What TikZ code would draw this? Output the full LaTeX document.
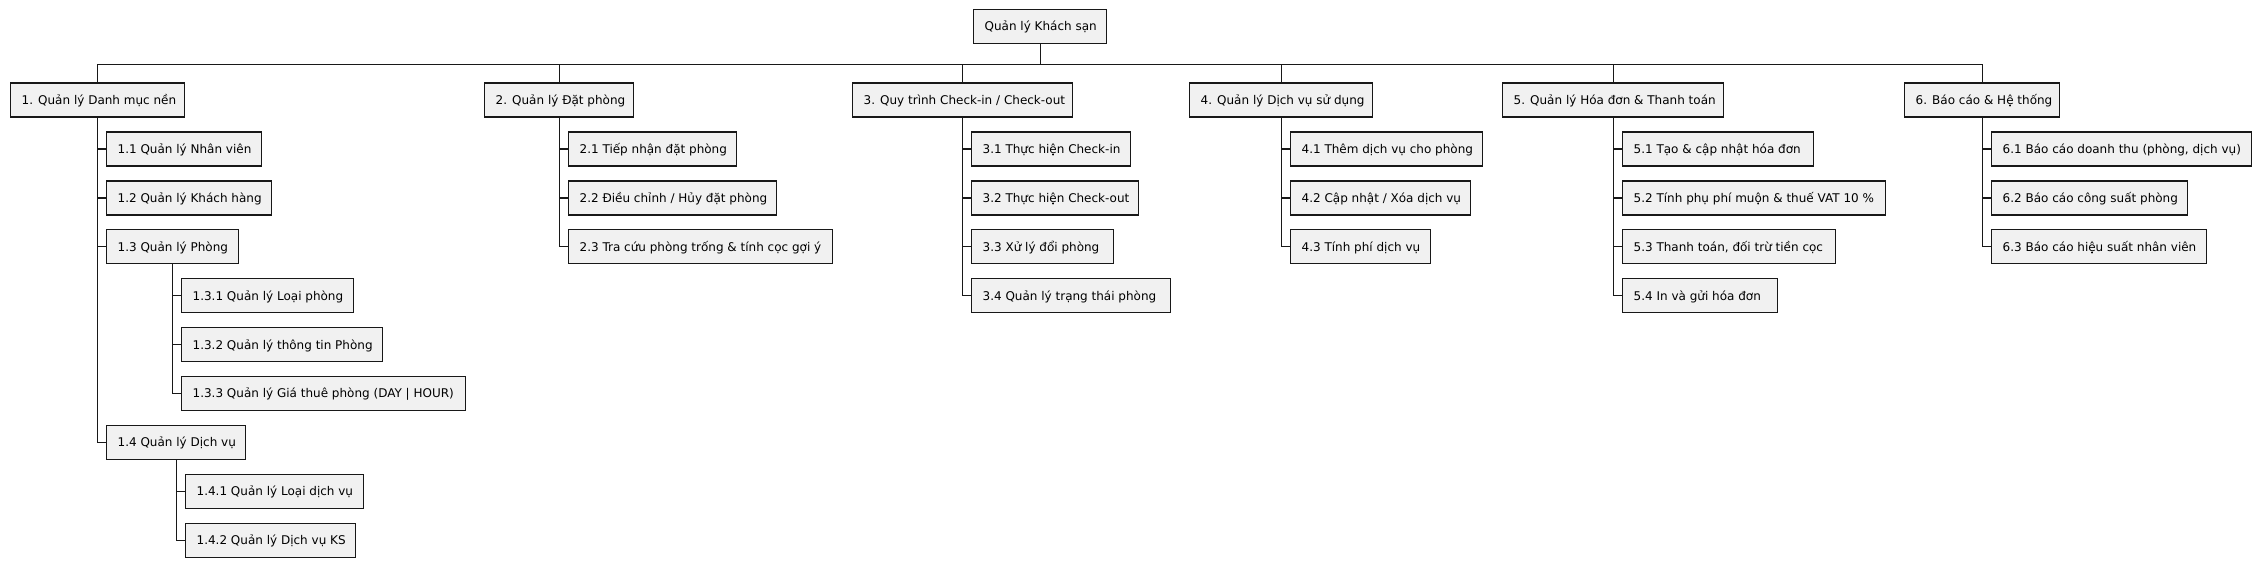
\documentclass[tikz,border=0pt]{standalone}
\usepackage{fontspec}
\setmainfont{DejaVu Sans}
\definecolor{boxfill}{HTML}{F1F1F1}
\definecolor{boxline}{HTML}{181818}
\pgfdeclarelayer{paper}
\pgfdeclarelayer{background}
\pgfsetlayers{paper,background,main}
\tikzset{
  bx/.style={draw=boxline, fill=boxfill, line width=1.3pt, anchor=west,
    minimum height=34pt, inner xsep=11pt, inner ysep=0pt,
    text height=11.5pt, text depth=2.7pt,
    font=\fontsize{12pt}{14pt}\selectfont},
  link/.style={draw=boxline, line width=1.3pt}
}
\newcommand\wbsnode[5]{\node[bx] (#1) at (#2,#3) {\makebox[\dimexpr #4pt-22pt\relax][l]{#5}};}
\begin{document}
\begin{tikzpicture}[x=1pt,y=-1pt]
\begin{pgfonlayer}{paper}
\fill[white] (0,0) rectangle (2260,568);
\end{pgfonlayer}
\useasboundingbox (0,0) rectangle (2260,568);
% root
\wbsnode{root}{973}{26.5}{133}{Quản lý Khách sạn}
% level 1
\wbsnode{a}{10}{100}{174}{1. Quản lý Danh mục nền}
\wbsnode{b}{484}{100}{149}{2. Quản lý Đặt phòng}
\wbsnode{c}{852}{100}{220}{3. Quy trình Check-in / Check-out}
\wbsnode{d}{1189}{100}{183}{4. Quản lý Dịch vụ sử dụng}
\wbsnode{e}{1502}{100}{221}{5. Quản lý Hóa đơn \& Thanh toán}
\wbsnode{f}{1904}{100}{155}{6. Báo cáo \& Hệ thống}
% column 1
\wbsnode{a1}{106}{149}{155}{1.1 Quản lý Nhân viên}
\wbsnode{a2}{106}{197.9}{165}{1.2 Quản lý Khách hàng}
\wbsnode{a3}{106}{246.8}{132}{1.3 Quản lý Phòng}
\wbsnode{a31}{181}{295.7}{172}{1.3.1 Quản lý Loại phòng}
\wbsnode{a32}{181}{344.6}{201}{1.3.2 Quản lý thông tin Phòng}
\wbsnode{a33}{181}{393.5}{284}{1.3.3 Quản lý Giá thuê phòng (DAY | HOUR)}
\wbsnode{a4}{106}{442.4}{139}{1.4 Quản lý Dịch vụ}
\wbsnode{a41}{185}{491.3}{178}{1.4.1 Quản lý Loại dịch vụ}
\wbsnode{a42}{185}{540.2}{170}{1.4.2 Quản lý Dịch vụ KS}
% column 2
\wbsnode{b1}{568}{149}{168}{2.1 Tiếp nhận đặt phòng}
\wbsnode{b2}{568}{197.9}{208}{2.2 Điều chỉnh / Hủy đặt phòng}
\wbsnode{b3}{568}{246.8}{264}{2.3 Tra cứu phòng trống \& tính cọc gợi ý}
% column 3
\wbsnode{c1}{971}{149}{159}{3.1 Thực hiện Check-in}
\wbsnode{c2}{971}{197.9}{167}{3.2 Thực hiện Check-out}
\wbsnode{c3}{971}{246.8}{142}{3.3 Xử lý đổi phòng}
\wbsnode{c4}{971}{295.7}{199}{3.4 Quản lý trạng thái phòng}
% column 4
\wbsnode{d1}{1290}{149}{192}{4.1 Thêm dịch vụ cho phòng}
\wbsnode{d2}{1290}{197.9}{180}{4.2 Cập nhật / Xóa dịch vụ}
\wbsnode{d3}{1290}{246.8}{140}{4.3 Tính phí dịch vụ}
% column 5
\wbsnode{e1}{1622}{149}{191}{5.1 Tạo \& cập nhật hóa đơn}
\wbsnode{e2}{1622}{197.9}{263}{5.2 Tính phụ phí muộn \& thuế VAT 10 \%}
\wbsnode{e3}{1622}{246.8}{213}{5.3 Thanh toán, đối trừ tiền cọc}
\wbsnode{e4}{1622}{295.7}{155}{5.4 In và gửi hóa đơn}
% column 6
\wbsnode{f1}{1991}{149}{260}{6.1 Báo cáo doanh thu (phòng, dịch vụ)}
\wbsnode{f2}{1991}{197.9}{196}{6.2 Báo cáo công suất phòng}
\wbsnode{f3}{1991}{246.8}{215}{6.3 Báo cáo hiệu suất nhân viên}
\begin{pgfonlayer}{background}
% connectors root -> level 1
\foreach \n in {a,b,c,d,e,f}
  \draw[link] (root.south) -- ++(0,20) -| (\n.north);
% connectors to children
\foreach \p/\cs in {a/{a1,a2,a3,a4}, b/{b1,b2,b3}, c/{c1,c2,c3,c4},
                    d/{d1,d2,d3}, e/{e1,e2,e3,e4}, f/{f1,f2,f3},
                    a3/{a31,a32,a33}, a4/{a41,a42}}
  \foreach \ch in \cs
    \draw[link] (\p.south) |- (\ch.west);
\end{pgfonlayer}
\end{tikzpicture}
\end{document}
